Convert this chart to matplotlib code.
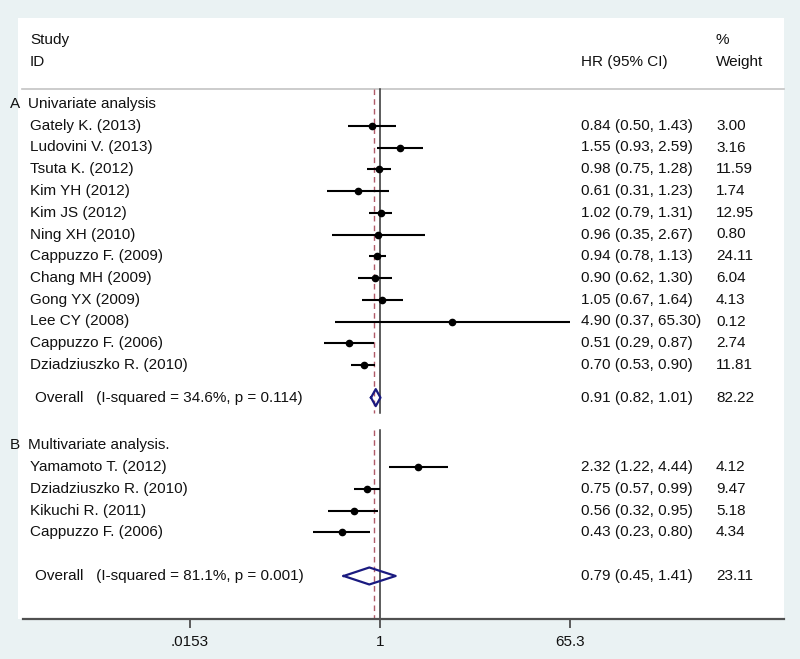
import matplotlib.pyplot as plt
import matplotlib.transforms as mtransforms
from matplotlib.patches import Rectangle
from matplotlib.ticker import NullLocator
import numpy as np

plt.rcParams['font.family'] = ['Liberation Sans', 'DejaVu Sans']

# ---- data ----
studies_a = ['Gately K. (2013)', 'Ludovini V. (2013)', 'Tsuta K. (2012)', 'Kim YH (2012)',
             'Kim JS (2012)', 'Ning XH (2010)', 'Cappuzzo F. (2009)', 'Chang MH (2009)',
             'Gong YX (2009)', 'Lee CY (2008)', 'Cappuzzo F. (2006)', 'Dziadziuszko R. (2010)']
hr_a = [0.84, 1.55, 0.98, 0.61, 1.02, 0.96, 0.94, 0.90, 1.05, 4.90, 0.51, 0.70]
lo_a = [0.50, 0.93, 0.75, 0.31, 0.79, 0.35, 0.78, 0.62, 0.67, 0.37, 0.29, 0.53]
hi_a = [1.43, 2.59, 1.28, 1.23, 1.31, 2.67, 1.13, 1.30, 1.64, 65.30, 0.87, 0.90]
wt_a = [3.00, 3.16, 11.59, 1.74, 12.95, 0.80, 24.11, 6.04, 4.13, 0.12, 2.74, 11.81]
overall_a = (0.91, 0.82, 1.01, 82.22)
het_a = 'Overall   (I-squared = 34.6%, p = 0.114)'

studies_b = ['Yamamoto T. (2012)', 'Dziadziuszko R. (2010)', 'Kikuchi R. (2011)', 'Cappuzzo F. (2006)']
hr_b = [2.32, 0.75, 0.56, 0.43]
lo_b = [1.22, 0.57, 0.32, 0.23]
hi_b = [4.44, 0.99, 0.95, 0.80]
wt_b = [4.12, 9.47, 5.18, 4.34]
overall_b = (0.79, 0.45, 1.41, 23.11)
het_b = 'Overall   (I-squared = 81.1%, p = 0.001)'

pooled_all = 0.87
xticks = [0.0153, 1, 65.3]
xticklabels = ['.0153', '1', '65.3']

# ---- layout (pixel rows from top) ----
W, H = 800, 659
row_h = 21.75
ya_head = 104
ya = ya_head + row_h * (1 + np.arange(len(studies_a)))
ya_overall = ya[-1] + 1.5 * row_h
yb_head = ya_overall + 2.2 * row_h
yb = yb_head + row_h * (1 + np.arange(len(studies_b)))
yb_overall = yb[-1] + 2 * row_h

bg = '#eaf2f3'
txt = '#111111'
navy = '#1a1a80'
fs = 11

fig = plt.figure(figsize=(W / 100, H / 100), dpi=100, facecolor=bg)
fig.add_artist(Rectangle((18 / W, (H - 619) / H), (784 - 18) / W, (619 - 18) / H,
                         transform=fig.transFigure, facecolor='white', edgecolor='none', zorder=0))

ax = fig.add_axes([23 / W, (H - 619) / H, (784 - 23) / W, (619 - 18) / H])
ax.patch.set_alpha(0)
ax.set_xscale('log')
ax.set_xlim(10 ** -3.407, 10 ** 3.855)
ax.set_ylim(619, 18)
for s in ['top', 'left', 'right']:
    ax.spines[s].set_visible(False)
ax.spines['bottom'].set_color('#505050')
ax.spines['bottom'].set_linewidth(1.6)
ax.set_yticks([])
ax.set_xticks(xticks)
ax.set_xticklabels(xticklabels)
ax.xaxis.set_minor_locator(NullLocator())
ax.tick_params(axis='x', length=6.5, width=1.3, color='#505050', labelsize=fs,
               labelcolor=txt, pad=5)

tr = mtransforms.blended_transform_factory(fig.transFigure, ax.transData)


def put(xpx, y, s, **kw):
    ax.text(xpx / W, y, s, transform=tr, fontsize=fs, color=txt, va='center',
            ha='left', clip_on=False, **kw)


# header
put(30, 40, 'Study')
put(30, 62, 'ID')
put(581, 62, 'HR (95% CI)')
put(716, 40, '%')
put(716, 62, 'Weight')
ax.plot([22 / W, 784 / W], [89, 89], transform=tr, color='#c4c4c4', lw=1.2, clip_on=False)

# reference lines
for y0, y1 in [(89, 413), (430, 619)]:
    ax.plot([1, 1], [y0, y1], color='#303030', lw=1.1, zorder=2)
    ax.plot([pooled_all, pooled_all], [y0, y1], color='#b05a68', lw=1.0,
            ls=(0, (4, 3)), zorder=2)


def section(letter, title, yh, names, hr, lo, hi, wt, ys, overall, het, yo):
    put(10, yh, letter)
    put(28, yh, title)
    for name, h, l, u, w, y in zip(names, hr, lo, hi, wt, ys):
        put(30, y, name)
        ax.plot([l, u], [y, y], color='black', lw=1.5, zorder=3, solid_capstyle='butt')
        ax.plot([h], [y], 'o', color='black', markersize=4.5, zorder=4)
        put(581, y, f'{h:.2f} ({l:.2f}, {u:.2f})')
        put(716, y, f'{w:.2f}')
    h, l, u, w = overall
    d = 8.5
    ax.plot([l, h, u, h, l], [yo, yo - d, yo, yo + d, yo], color=navy, lw=1.6, zorder=4)
    put(35, yo, het)
    put(581, yo, f'{h:.2f} ({l:.2f}, {u:.2f})')
    put(716, yo, f'{w:.2f}')


section('A', 'Univariate analysis', ya_head, studies_a, hr_a, lo_a, hi_a, wt_a, ya,
        overall_a, het_a, ya_overall)
section('B', 'Multivariate analysis.', yb_head, studies_b, hr_b, lo_b, hi_b, wt_b, yb,
        overall_b, het_b, yb_overall)

plt.savefig('out.png', dpi=100, facecolor=bg)
